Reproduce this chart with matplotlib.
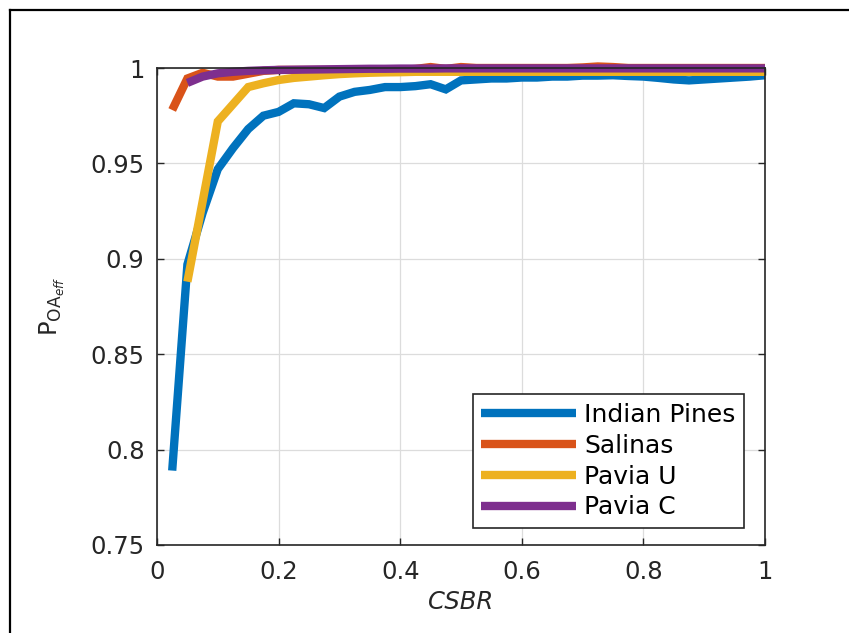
import matplotlib
matplotlib.use("Agg")
import matplotlib.pyplot as plt
from matplotlib.lines import Line2D

plt.rcParams['font.family'] = ['DejaVu Sans']
plt.rcParams['mathtext.fontset'] = 'dejavusans'

# ---- data ----
x_ip = [0.025, 0.05, 0.075, 0.1, 0.125, 0.15, 0.175, 0.2, 0.225, 0.25,
        0.275, 0.3, 0.325, 0.35, 0.375, 0.4, 0.425, 0.45, 0.475, 0.5,
        0.525, 0.55, 0.575, 0.6, 0.625, 0.65, 0.675, 0.7, 0.725, 0.75,
        0.775, 0.8, 0.825, 0.85, 0.875, 0.9, 0.925, 0.95, 0.975, 1.0]
indian_pines = [0.789, 0.897, 0.924, 0.947, 0.958, 0.968, 0.975, 0.977, 0.9815, 0.981,
                0.979, 0.985, 0.9875, 0.9885, 0.990, 0.990, 0.9905, 0.9915, 0.9888, 0.9935,
                0.994, 0.9945, 0.9945, 0.995, 0.995, 0.9955, 0.9955, 0.996, 0.996, 0.9962,
                0.9958, 0.9955, 0.9948, 0.994, 0.9935, 0.994, 0.9945, 0.995, 0.9955, 0.9962]

x_sa = x_ip
salinas = [0.978, 0.9945, 0.9975, 0.9955, 0.9955, 0.997, 0.9985, 0.999, 0.999, 0.999,
           0.999, 0.999, 0.999, 0.999, 0.999, 0.999, 0.9995, 1.0005, 0.9995, 1.0005,
           1.0, 1.0, 1.0, 1.0, 1.0, 1.0, 1.0, 1.0003, 1.0008, 1.0005,
           1.0, 1.0, 1.0, 1.0, 1.0, 1.0, 1.0, 1.0, 1.0, 1.0]

x_pu = x_ip[1:]
pavia_u = [0.888, 0.930, 0.972, 0.981, 0.990, 0.992, 0.9937, 0.9948, 0.9955, 0.9962,
           0.9968, 0.9972, 0.9975, 0.9977, 0.9978, 0.998, 0.998, 0.998, 0.998,
           0.998, 0.998, 0.998, 0.998, 0.998, 0.998, 0.998, 0.998, 0.998,
           0.998, 0.998, 0.998, 0.998, 0.998, 0.998, 0.998, 0.998, 0.998, 0.998, 0.998]

x_pc = x_ip[1:]
pavia_c = [0.9922, 0.9955, 0.9972, 0.998, 0.9985, 0.9988, 0.999, 0.9991, 0.9992, 0.9993,
           0.9994, 0.9995, 0.9996, 0.9996, 0.9997, 0.9997, 0.9997, 0.9998, 0.9998,
           0.9998, 0.9998, 0.9998, 0.9998, 0.9998, 0.9998, 0.9998, 0.9998, 0.9998,
           0.9998, 0.9998, 0.9998, 0.9998, 0.9998, 0.9998, 0.9998, 0.9998, 0.9998, 0.9998, 0.9998]

labels = ['Indian Pines', 'Salinas', 'Pavia U', 'Pavia C']
colors = ['#0072BD', '#D95319', '#EDB120', '#7E2F8E']
xticks = [0, 0.2, 0.4, 0.6, 0.8, 1]
xticklabels = ['0', '0.2', '0.4', '0.6', '0.8', '1']
yticks = [0.75, 0.8, 0.85, 0.9, 0.95, 1]
yticklabels = ['0.75', '0.8', '0.85', '0.9', '0.95', '1']

# ---- figure ----
W, H = 849, 633
fig = plt.figure(figsize=(W / 100, H / 100), dpi=100)
ax = fig.add_axes([157 / W, 1 - 545 / H, (765 - 157) / W, (545 - 68) / H])

txtc = '#262626'
fs = 17.5

series = [(x_ip, indian_pines), (x_sa, salinas), (x_pu, pavia_u), (x_pc, pavia_c)]
for (xs, ys), lab, c in zip(series, labels, colors):
    ax.plot(xs, ys, color=c, lw=6, label=lab, clip_on=False,
            solid_joinstyle='miter', solid_capstyle='butt')

ax.set_xlim(0, 1)
ax.set_ylim(0.75, 1)
ax.set_xticks(xticks)
ax.set_xticklabels(xticklabels)
ax.set_yticks(yticks)
ax.set_yticklabels(yticklabels)
ax.grid(True, color='#dcdcdc', lw=0.9)
ax.set_axisbelow(True)
ax.tick_params(direction='in', length=5, width=1, colors=txtc, labelsize=fs,
               top=True, right=True)
ax.tick_params(axis='x', pad=11)
ax.tick_params(axis='y', pad=9)
for s in ax.spines.values():
    s.set_color(txtc)
    s.set_linewidth(1.2)

ax.set_xlabel('CSBR', fontsize=fs, style='italic', color=txtc)
ax.xaxis.set_label_coords(0.5, -(614 - 545) / (545 - 68))
ax.xaxis.label.set_va('bottom')
ax.set_ylabel(r'P$_{\mathregular{OA}_{\mathit{eff}}}$', fontsize=fs, color=txtc)
ax.yaxis.set_label_coords(-(157 - 67) / (765 - 157), 0.5)

leg = ax.legend(loc='lower right', bbox_to_anchor=(744 / W, 1 - 528 / H),
                bbox_transform=fig.transFigure, borderaxespad=0,
                fontsize=18, frameon=True, fancybox=False, framealpha=1,
                edgecolor=txtc, handlelength=3.8, handletextpad=0.3,
                labelspacing=0.27, borderpad=0.35)
leg.get_frame().set_linewidth(1.2)
for t in leg.get_texts():
    t.set_color('black')

# outer frame (top and left edges)
fig.add_artist(Line2D([10 / W, 1], [1 - 10 / H, 1 - 10 / H], color='black', lw=1.6,
                      transform=fig.transFigure))
fig.add_artist(Line2D([10 / W, 10 / W], [0, 1 - 10 / H], color='black', lw=1.6,
                      transform=fig.transFigure))

fig.savefig('out.png', dpi=100)
